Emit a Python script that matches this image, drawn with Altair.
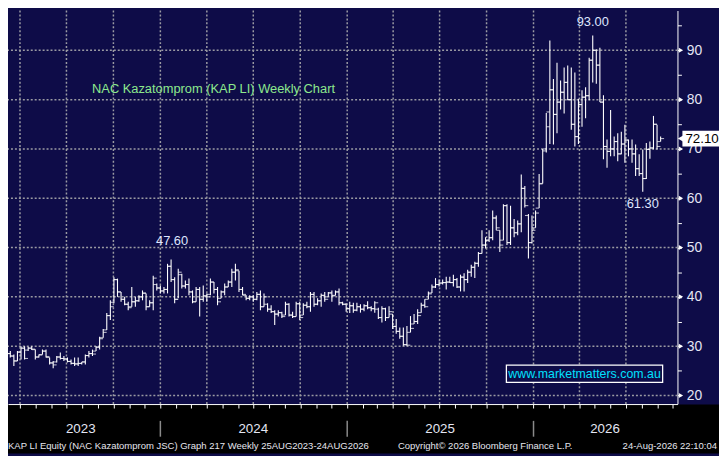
import altair as alt
import pandas as pd

# ---------------- data (weekly OHLC) ----------------
first_week = "2023-02-27"
opens = [29.5, 28.0, 28.5, 28.0, 27.0, 28.8, 29.6, 29.2, 29.6, 29.3,
         27.8, 28.3, 29.0, 27.7, 26.6, 26.8, 27.8, 27.5, 27.4, 26.9,
         26.5, 26.4, 26.5, 26.8, 28.1, 28.5, 29.0, 29.8, 31.7, 33.3,
         36.2, 38.9, 43.5, 41.0, 39.5, 38.5, 38.0, 39.0, 39.2, 40.0,
         40.7, 38.0, 38.8, 42.5, 41.8, 41.2, 41.5, 46.2, 43.5, 39.5,
         44.5, 42.2, 42.5, 41.0, 39.0, 41.5, 39.5, 40.2, 40.5, 43.0,
         41.5, 39.7, 41.0, 42.0, 43.0, 45.0, 45.3, 41.5, 40.3, 39.7,
         40.0, 39.5, 40.5, 38.0, 38.5, 37.5, 37.0, 36.5, 36.8, 36.3,
         38.5, 36.3, 36.0, 38.6, 36.3, 38.3, 38.0, 40.5, 38.5, 39.2,
         40.3, 40.0, 40.8, 40.3, 41.0, 38.8, 38.5, 37.6, 38.2, 37.3,
         38.0, 37.5, 38.2, 37.8, 37.6, 37.5, 35.8, 37.6, 35.8, 36.5,
         34.0, 33.0, 32.0, 30.3, 32.8, 34.5, 35.0, 36.8, 38.3, 39.5,
         40.8, 42.0, 42.5, 42.8, 42.9, 43.0, 42.9, 43.5, 42.0, 44.0,
         43.5, 45.0, 46.0, 46.8, 48.8, 50.5, 51.5, 52.0, 56.0, 53.5,
         51.5, 58.5, 51.0, 54.0, 53.0, 54.8, 62.0, 56.5, 51.0, 54.0,
         58.0, 63.0, 70.0, 77.5, 82.0, 77.0, 79.5, 81.5, 83.5, 80.0,
         75.0, 72.5, 79.0, 80.5, 80.8, 88.0, 90.0, 87.0, 79.5, 70.5,
         69.5, 70.0, 71.5, 69.0, 71.0, 71.8, 70.0, 69.0, 66.0, 65.0,
         64.0, 69.9, 70.2, 75.0, 71.5]
highs = [30.3, 29.7, 29.0, 28.3, 29.0, 30.0, 30.0, 29.9, 30.0, 29.3,
         28.3, 29.3, 29.3, 27.7, 27.0, 28.0, 28.7, 28.0, 27.7, 27.3,
         27.7, 27.7, 26.8, 28.3, 29.0, 29.3, 30.0, 31.9, 33.5, 36.7,
         39.3, 44.0, 43.7, 41.0, 40.0, 39.0, 42.0, 40.0, 40.3, 41.3,
         40.7, 39.3, 44.3, 42.7, 42.3, 42.0, 46.7, 47.6, 44.0, 45.7,
         44.7, 43.3, 43.7, 41.3, 42.0, 42.0, 42.3, 40.7, 43.7, 43.0,
         42.0, 41.3, 42.7, 43.3, 45.7, 46.7, 45.3, 42.0, 40.3, 40.3,
         40.3, 41.0, 41.3, 40.7, 38.7, 38.3, 37.3, 37.3, 37.0, 39.0,
         38.7, 37.0, 39.0, 39.0, 38.7, 39.0, 41.0, 41.0, 39.7, 40.7,
         41.0, 41.0, 41.3, 41.3, 41.7, 39.0, 38.7, 39.0, 38.8, 38.8,
         38.5, 38.5, 39.1, 38.1, 39.1, 37.8, 38.1, 37.8, 38.1, 36.5,
         35.5, 33.8, 33.8, 34.1, 36.1, 36.5, 37.5, 38.8, 39.5, 41.1,
         42.5, 43.8, 43.5, 43.5, 44.1, 44.1, 44.5, 43.8, 44.5, 44.8,
         45.5, 46.5, 47.1, 49.1, 53.5, 52.1, 53.5, 57.5, 56.5, 53.5,
         58.8, 58.8, 58.5, 55.8, 55.5, 64.8, 62.5, 56.8, 56.5, 57.5,
         64.9, 70.0, 77.3, 92.0, 84.2, 87.5, 83.9, 86.5, 86.9, 86.5,
         85.5, 80.2, 81.9, 82.5, 88.5, 93.0, 90.2, 90.5, 80.9, 71.9,
         77.9, 72.5, 73.2, 73.5, 74.9, 71.9, 71.9, 70.9, 68.9, 69.9,
         71.2, 71.5, 76.7, 74.9, 72.5]
lows = [27.7, 27.3, 27.7, 26.0, 27.0, 27.3, 27.3, 29.0, 29.2, 27.3,
        27.7, 28.3, 27.7, 26.3, 25.5, 26.7, 27.3, 27.0, 26.7, 26.3,
        26.0, 26.0, 26.3, 26.3, 27.7, 28.0, 29.0, 29.3, 31.7, 33.3,
        35.3, 38.7, 40.0, 39.0, 38.3, 37.3, 38.0, 38.0, 39.0, 39.3,
        37.3, 38.0, 37.3, 41.3, 40.7, 40.7, 40.7, 43.0, 38.7, 39.7,
        41.7, 41.7, 40.3, 38.7, 39.0, 36.0, 39.0, 39.0, 40.3, 40.7,
        38.3, 39.7, 40.3, 42.0, 42.0, 43.3, 41.0, 40.3, 39.3, 39.3,
        39.0, 39.3, 37.3, 38.0, 37.0, 36.7, 34.3, 36.0, 35.7, 36.3,
        36.0, 35.7, 36.0, 35.3, 36.3, 37.7, 37.0, 38.0, 38.3, 38.0,
        39.0, 40.0, 39.0, 40.3, 38.3, 38.3, 37.0, 36.7, 36.8, 37.1,
        36.8, 37.1, 37.5, 37.1, 36.8, 35.5, 34.8, 35.1, 35.8, 33.5,
        32.5, 31.5, 30.1, 30.1, 32.8, 34.5, 34.5, 36.8, 37.8, 39.5,
        40.8, 41.8, 42.1, 42.5, 41.5, 42.8, 42.1, 41.8, 41.1, 41.1,
        42.8, 44.1, 43.8, 46.1, 48.8, 49.8, 51.1, 51.5, 53.5, 49.1,
        51.5, 50.5, 50.5, 52.1, 52.5, 53.1, 58.1, 47.8, 50.8, 54.0,
        58.0, 63.0, 69.3, 71.0, 70.9, 73.2, 78.0, 77.2, 79.9, 73.9,
        70.5, 71.0, 74.5, 76.2, 79.9, 83.5, 83.2, 79.5, 67.9, 66.2,
        68.5, 68.5, 67.5, 68.9, 67.2, 68.5, 67.2, 64.5, 64.5, 61.3,
        63.9, 68.0, 69.9, 69.9, 71.5]
closes = [28.0, 28.5, 28.0, 27.0, 28.8, 29.6, 27.5, 29.6, 29.4, 27.8,
          28.2, 29.0, 27.9, 26.6, 26.2, 27.8, 27.5, 27.4, 26.9, 26.5,
          26.4, 26.5, 26.8, 28.1, 28.5, 28.4, 29.8, 31.5, 32.8, 36.2,
          38.0, 43.5, 41.0, 39.5, 38.5, 37.8, 39.0, 39.2, 40.0, 40.8,
          38.0, 38.8, 43.8, 41.8, 41.2, 41.5, 46.2, 43.5, 39.5, 45.0,
          42.2, 42.5, 41.0, 39.0, 41.5, 39.5, 40.2, 40.0, 43.0, 41.5,
          39.0, 41.0, 42.0, 43.0, 45.0, 45.5, 41.5, 40.5, 39.7, 40.0,
          39.5, 40.5, 38.0, 40.0, 37.5, 37.0, 36.5, 36.8, 36.0, 38.5,
          36.3, 36.0, 38.6, 35.8, 38.3, 38.0, 40.5, 38.5, 39.2, 40.3,
          39.5, 40.8, 40.2, 41.0, 38.8, 38.5, 37.6, 38.2, 37.3, 38.0,
          37.5, 38.2, 37.8, 37.6, 38.8, 35.8, 37.6, 35.8, 37.0, 34.0,
          33.0, 32.0, 30.3, 30.2, 33.6, 35.0, 36.2, 38.3, 38.0, 40.6,
          42.0, 42.5, 42.8, 42.9, 43.0, 42.9, 43.5, 42.0, 44.0, 43.5,
          45.0, 46.0, 46.8, 48.8, 50.5, 51.5, 52.0, 56.0, 54.0, 50.5,
          58.5, 51.0, 54.0, 53.0, 54.8, 62.0, 58.5, 51.0, 53.5, 57.0,
          62.9, 69.6, 74.5, 82.0, 77.0, 79.5, 81.5, 83.5, 80.0, 75.0,
          72.5, 79.0, 80.5, 80.8, 88.0, 90.0, 87.0, 79.5, 70.5, 69.5,
          70.0, 71.5, 69.0, 71.0, 71.8, 70.0, 69.0, 66.0, 65.0, 64.0,
          69.9, 70.2, 75.0, 70.5, 72.1]

grid_dates = ["2023-04-01", "2023-07-01", "2023-10-01", "2024-01-01", "2024-04-01",
              "2024-07-01", "2024-10-01", "2025-01-01", "2025-04-01", "2025-07-01",
              "2025-10-01", "2026-01-01", "2026-04-01", "2026-07-01"]
grid_prices = [20, 30, 40, 50, 60, 70, 80, 90]
tick_prices = list(range(20, 100, 5))
year_labels = ["2023", "2024", "2025", "2026"]
year_label_dates = ["2023-07-29", "2024-07-01", "2025-07-02", "2026-05-21"]
year_breaks = ["2024-01-01", "2025-01-01", "2026-01-01"]

title_text = "NAC Kazatomprom (KAP LI) Weekly Chart"
site_text = "www.marketmatters.com.au"
footer_left = "KAP LI Equity (NAC Kazatomprom JSC) Graph 217 Weekly 25AUG2023-24AUG2026"
footer_mid = "Copyright\u00a9 2026 Bloomberg Finance L.P."
footer_right = "24-Aug-2026 22:10:04"

# ---------------- frames ----------------
dates = pd.date_range(first_week, periods=len(closes), freq="7D")
ohlc = pd.DataFrame({"date": dates, "open": opens, "high": highs,
                     "low": lows, "close": closes})
hi_idx = highs.index(max(highs))
pk1_idx = highs.index(max(highs[:100]))
lo_idx = hi_idx + lows[hi_idx:].index(min(lows[hi_idx:]))
ann_hi = pd.DataFrame({"date": [dates[hi_idx]], "value": [highs[hi_idx]],
                       "label": [f"{highs[hi_idx]:.2f}"]})
ann_pk1 = pd.DataFrame({"date": [dates[pk1_idx]], "value": [highs[pk1_idx]],
                        "label": [f"{highs[pk1_idx]:.2f}"]})
ann_lo = pd.DataFrame({"date": [dates[lo_idx]], "value": [lows[lo_idx]],
                       "label": [f"{lows[lo_idx]:.2f}"]})
last = pd.DataFrame({"value": [closes[-1]], "label": [f"{closes[-1]:.2f}"]})
gridx = pd.DataFrame({"date": pd.to_datetime(grid_dates)})
gridy = pd.DataFrame({"value": grid_prices})
ticks10 = pd.DataFrame({"value": [v for v in tick_prices if v % 10 == 0]})
years = pd.DataFrame({"date": pd.to_datetime(year_label_dates), "label": year_labels})
ybreaks = pd.DataFrame({"date": pd.to_datetime(year_breaks)})
one = pd.DataFrame({"k": [0]})

# ---------------- styling ----------------
NAVY = "#0e0c48"
FONT = "Liberation Sans"
W, H = 677, 398

x_scale = alt.Scale(domain=[alt.DateTime(year=2023, month=3, date=8, hours=12),
                            alt.DateTime(year=2026, month=10, date=10)])
y_scale = alt.Scale(domain=[18.255, 98.08], nice=False, zero=False)

x_axis = alt.Axis(title=None, labels=False, tickCount="month", tickSize=4,
                  tickColor="white", domainColor="white", tickWidth=1,
                  domainWidth=1, grid=False, zindex=1)
y_axis = alt.Axis(orient="right", title=None, values=tick_prices,
                  labelExpr="datum.value % 10 == 0 ? datum.label : ''",
                  tickSize=4, tickColor="white", domainColor="white",
                  tickWidth=1, domainWidth=1, grid=False,
                  labelColor="#e4e6f4", labelFont=FONT, labelFontSize=14,
                  labelPadding=5)


def xenc(field="date"):
    return alt.X(field, type="temporal", scale=x_scale, axis=x_axis)


def yenc(field):
    return alt.Y(field, type="quantitative", scale=y_scale, axis=y_axis)


grid_v = alt.Chart(gridx).mark_rule(color="#9a9aa2", strokeWidth=1.5,
                                    strokeDash=[2, 2]).encode(x=xenc())
grid_h = alt.Chart(gridy).mark_rule(color="#9a9aa2", strokeWidth=1.5,
                                    strokeDash=[2, 2]).encode(y=yenc("value"))

hl = alt.Chart(ohlc).mark_rule(color="white", strokeWidth=1.1).encode(
    x=xenc(), y=yenc("low"), y2="high")
op = alt.Chart(ohlc).mark_tick(orient="horizontal", color="white", size=3.5,
                               thickness=1.1, xOffset=-1.75).encode(
    x=xenc(), y=yenc("open"))
cl = alt.Chart(ohlc).mark_tick(orient="horizontal", color="white", size=3.5,
                               thickness=1.1, xOffset=1.75).encode(
    x=xenc(), y=yenc("close"))

ann_style = dict(color="#dfe6ff", font=FONT, fontSize=13, align="center",
                 baseline="middle")
t_hi = alt.Chart(ann_hi).mark_text(dy=-13.3, **ann_style).encode(
    x=xenc(), y=yenc("value"), text="label")
t_pk1 = alt.Chart(ann_pk1).mark_text(dy=-18.7, dx=1, **ann_style).encode(
    x=xenc(), y=yenc("value"), text="label")
t_lo = alt.Chart(ann_lo).mark_text(dy=12.6, **ann_style).encode(
    x=xenc(), y=yenc("value"), text="label")

title = alt.Chart(one).mark_text(text=title_text, color="#8de88d", font=FONT,
                                 fontSize=13, align="left",
                                 baseline="middle").encode(
    x=alt.value(85), y=alt.value(79))

site_box = alt.Chart(one).mark_rect(fill=NAVY, stroke="white",
                                    strokeWidth=1.3).encode(
    x=alt.value(504), x2=alt.value(662), y=alt.value(358.7), y2=alt.value(376))
site_txt = alt.Chart(one).mark_text(text=site_text, color="#00e1ff", font=FONT,
                                    fontSize=12.5, align="center",
                                    baseline="middle").encode(
    x=alt.value(583), y=alt.value(367.6))

# right-axis pointers at the labelled levels
pointers = alt.Chart(ticks10).mark_point(shape="triangle-right", filled=True,
                                         color="white", size=26,
                                         opacity=1).encode(
    x=alt.value(W + 3.5), y=yenc("value"))

# last price box
last_box = alt.Chart(last).mark_rect(fill="white", yOffset=-8,
                                     y2Offset=8).encode(
    x=alt.value(W + 5), x2=alt.value(W + 42), y=yenc("value"), y2="value")
last_tip = alt.Chart(last).mark_point(shape="triangle-left", filled=True,
                                      color="white", size=70,
                                      opacity=1).encode(
    x=alt.value(W + 4), y=yenc("value"))
last_txt = alt.Chart(last).mark_text(color="#000000", font=FONT, fontSize=13.5,
                                     align="left", baseline="middle").encode(
    x=alt.value(W + 8), y=yenc("value"), text="label")

# bottom black strip with years and footer
strip = alt.Chart(one).mark_rect(fill="black").encode(
    x=alt.value(0), x2=alt.value(W + 42), y=alt.value(H + 0.5),
    y2=alt.value(H + 50))
year_sep = alt.Chart(ybreaks).mark_rule(color="#8a8a8a", strokeWidth=1.5).encode(
    x=xenc(), y=alt.value(415), y2=alt.value(431))
year_txt = alt.Chart(years).mark_text(color="#e4e6f4", font=FONT, fontSize=13.5,
                                      align="center", baseline="middle").encode(
    x=xenc(), y=alt.value(423.7), text="label")
foot_style = dict(color="#e6e6ee", font=FONT, fontSize=9.6, baseline="middle")
f_left = alt.Chart(one).mark_text(text=footer_left, align="left",
                                  **foot_style).encode(
    x=alt.value(0), y=alt.value(440.5))
f_mid = alt.Chart(one).mark_text(text=footer_mid, align="center",
                                 **foot_style).encode(
    x=alt.value(482.5), y=alt.value(440.5))
f_right = alt.Chart(one).mark_text(text=footer_right, align="right",
                                   **foot_style).encode(
    x=alt.value(717), y=alt.value(440.5))

chart = alt.layer(
    grid_v, grid_h, hl, op, cl, t_hi, t_pk1, t_lo, title, site_box, site_txt,
    strip, year_sep, year_txt, f_left, f_mid, f_right,
    pointers, last_box, last_tip, last_txt,
).properties(
    width=W, height=H,
    autosize=alt.AutoSizeParams(type="none"),
    padding={"left": 0, "top": 0, "right": 42, "bottom": 50},
    background=NAVY,
).configure_view(fill=NAVY, stroke=None)

chart.save("out.html", embed_options={"renderer": "svg", "actions": False})
